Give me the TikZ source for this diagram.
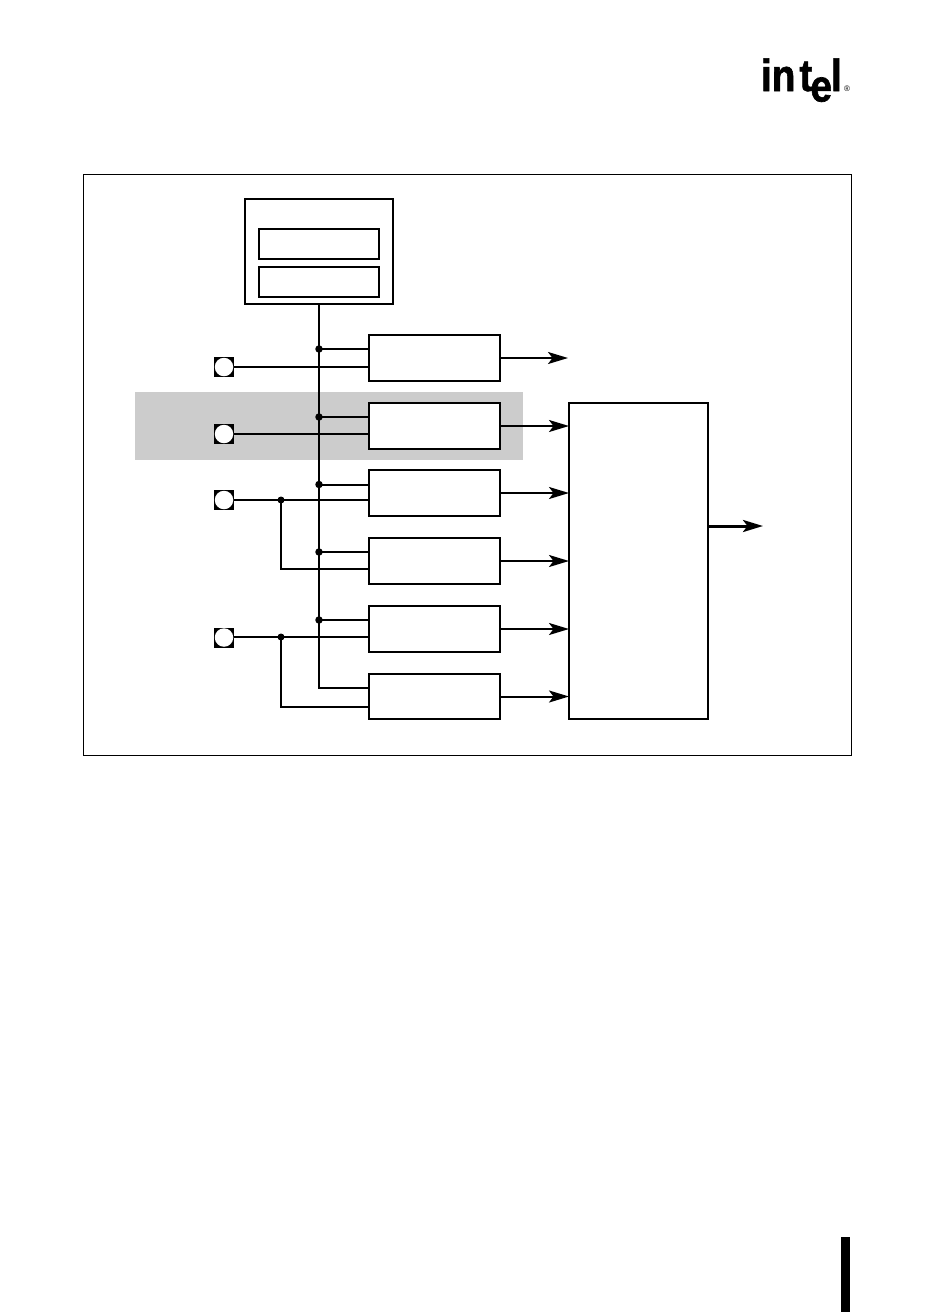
\documentclass[tikz,border=0pt]{standalone}
\usepackage{fontspec}
\setmainfont{Liberation Sans}
\newfontfamily\logofont[FakeBold=1.5]{Liberation Sans Bold}
\usetikzlibrary{arrows.meta,calc}
\tikzset{
  wire/.style={line width=2pt,draw=black},
  sig/.style={wire,-{Stealth[length=20pt,width=12pt,inset=4.5pt]}},
  bigsig/.style={line width=3pt,draw=black,-{Stealth[length=20pt,width=12pt,inset=4.5pt]}},
  blockbox/.style={draw=black,line width=2pt,fill=white,minimum width=131pt,minimum height=46pt,inner sep=0pt,outer sep=0pt},
  regbox/.style={draw=black,line width=2pt,fill=white,minimum width=120pt,minimum height=30pt,inner sep=0pt,outer sep=0pt},
  pinsq/.style={fill=black,minimum size=20pt,inner sep=0pt,outer sep=0pt},
  pinhole/.style={circle,fill=white,minimum size=18.5pt,inner sep=0pt,outer sep=0pt},
  joint/.style={circle,fill=black,minimum size=7.5pt,inner sep=0pt,outer sep=0pt},
  logo/.style={inner sep=0pt,outer sep=0pt,anchor=base west,font=\fontsize{45}{45}\logofont,xscale=.86},
}
\begin{document}
\begin{tikzpicture}[x=1pt,y=-1pt]
\useasboundingbox (0,0) rectangle (936,1312);
\fill[white] (0,0) rectangle (936,1312);
\draw[black,line width=1pt] (83.5,174.5) rectangle (851.5,755);
\fill[black!20] (135,392) rectangle (523,460);
% black edge bar
\fill[black] (841,1237) rectangle (850,1312);
% logo
\node[logo] (logoa) at (761,91) {in};
\node[logo] (logob) at (799.5,91) {t};
\node[logo] (logoc) at (810.5,101.5) {e};
\node[logo] (logod) at (831,91) {l};
\node[inner sep=0pt,font=\fontsize{8}{8}\selectfont] (logor) at (847,89) {®};
% registers
\node[draw=black,line width=2pt,fill=white,minimum width=148pt,minimum height=105pt,inner sep=0pt,outer sep=0pt] (ctl) at (319,251.5) {};
\node[regbox] (rega) at (319,244) {};
\node[regbox] (regb) at (319,282) {};
% blocks
\node[blockbox] (b1) at (434.5,358) {};
\node[blockbox] (b2) at (434.5,426) {};
\node[blockbox,minimum height=46.5pt] (b3) at (434.5,493) {};
\node[blockbox] (b4) at (434.5,561) {};
\node[blockbox] (b5) at (434.5,629) {};
\node[blockbox,minimum height=45pt] (b6) at (434.5,696.5) {};
\node[draw=black,line width=2pt,fill=white,minimum width=139pt,minimum height=316pt,inner sep=0pt,outer sep=0pt] (mux) at (638.5,561) {};
% pins
\node[pinsq] (p1) at (224,367) {};
\node[pinsq] (p2) at (224,434) {};
\node[pinsq] (p3) at (224,500) {};
\node[pinsq] (p4) at (224,637.5) {};
\node[pinhole] at (p1) {};
\node[pinhole] at (p2) {};
\node[pinhole] at (p3) {};
\node[pinhole] at (p4) {};
% bus joints
\node[joint] (j1) at (319,349) {};
\node[joint] (j2) at (319,417) {};
\node[joint] (j3) at (319,484.5) {};
\node[joint] (j4) at (319,552) {};
\node[joint] (j5) at (319,620) {};
\node[joint,minimum size=7pt] (k3) at (281,500) {};
\node[joint,minimum size=7pt] (k4) at (281,637) {};
\coordinate (e1) at (568,358);
\coordinate (e7) at (763,526);
\coordinate (m3) at (281,569);
\coordinate (m4) at (281,707);
\coordinate (busend) at (319,688);
% bus
\draw[wire] (ctl.south) -- (busend) -- (busend -| b6.west);
\draw[wire] (j1.center) -- (j1.center -| b1.west);
\draw[wire] (j2.center) -- (j2.center -| b2.west);
\draw[wire] (j3.center) -- (j3.center -| b3.west);
\draw[wire] (j4.center) -- (j4.center -| b4.west);
\draw[wire] (j5.center) -- (j5.center -| b5.west);
% pin wires
\draw[wire] (p1.east) -- (p1.east -| b1.west);
\draw[wire] (p2.east) -- (p2.east -| b2.west);
\draw[wire] (p3.east) -- (p3.east -| b3.west);
\draw[wire] (k4.center) -- (k4.center -| p4.east);
\draw[wire] (k4.center) -- (k4.center -| b5.west);
\draw[wire] (k3.center) -- (m3) -- (m3 -| b4.west);
\draw[wire] (k4.center) -- (m4) -- (m4 -| b6.west);
% outputs
\draw[sig] (b1.east) -- (e1);
\draw[sig] (b2.east) -- (b2.east -| mux.west);
\draw[sig] (b3.east) -- (b3.east -| mux.west);
\draw[sig] (b4.east) -- (b4.east -| mux.west);
\draw[sig] (b5.east) -- (b5.east -| mux.west);
\draw[sig] (b6.east) -- (b6.east -| mux.west);
\draw[bigsig] (mux.east |- e7) -- (e7);
\end{tikzpicture}
\end{document}
